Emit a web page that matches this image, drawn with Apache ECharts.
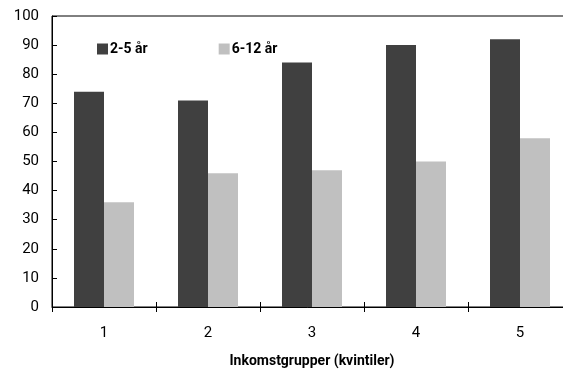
<!DOCTYPE html>
<html>
<head>
<meta charset="utf-8">
<script src="https://cdn.jsdelivr.net/npm/echarts@6/dist/echarts.min.js"></script>
<style>
  html, body { margin: 0; padding: 0; background: #fff; }
  #chart { width: 563px; height: 374px; }
</style>
</head>
<body>
<div id="chart"></div>
<script>
// Income quintiles and share per age group
const categories = ['1', '2', '3', '4', '5'];
const young = [74, 71, 84, 90, 92];     // 2-5 år
const older = [36, 46, 47, 50, 58];     // 6-12 år
const seriesNames = ['2-5 år', '6-12 år'];
const yTicks = { min: 0, max: 100, interval: 10 };

const FONT = 'Roboto, "Liberation Sans Narrow", sans-serif';

const chart = echarts.init(document.getElementById('chart'), null, { renderer: 'canvas' });
chart.setOption({
  animation: false,
  backgroundColor: '#fff',
  textStyle: { fontFamily: FONT, color: '#000' },
  grid: {
    left: 52, top: 16, width: 520, height: 291,
    outerBoundsMode: 'none',
    containLabel: false,
    show: true, borderColor: '#000', borderWidth: 1, backgroundColor: 'transparent'
  },
  legend: {
    left: 92, top: 37,
    itemWidth: 11, itemHeight: 11, itemGap: 71,
    icon: 'rect',
    textStyle: { fontFamily: FONT, fontSize: 14, fontWeight: 'bold', color: '#000', padding: [0, 0, 0, -3] },
    data: seriesNames
  },
  xAxis: [{
    type: 'category',
    data: categories,
    position: 'bottom',
    name: 'Inkomstgrupper (kvintiler)',
    nameLocation: 'middle',
    nameGap: 47,
    nameTextStyle: { fontFamily: FONT, fontSize: 14, fontWeight: 'bold', color: '#000' },
    axisLine: { lineStyle: { color: '#000', width: 1 } },
    axisTick: { show: true, alignWithLabel: false, length: 5, lineStyle: { color: '#000' } },
    axisLabel: { fontFamily: FONT, fontSize: 15, color: '#000', margin: 19 }
  }, {
    type: 'category',
    data: categories,
    position: 'bottom',
    axisLine: { show: false },
    axisTick: { show: true, inside: true, alignWithLabel: false, length: 5, lineStyle: { color: '#000' } },
    axisLabel: { show: false }
  }],
  yAxis: {
    type: 'value',
    min: yTicks.min, max: yTicks.max, interval: yTicks.interval,
    axisLine: { show: true, lineStyle: { color: '#000', width: 1 } },
    axisTick: { show: true, inside: true, length: 5, lineStyle: { color: '#000' } },
    splitLine: { show: false },
    axisLabel: { fontFamily: FONT, fontSize: 15, color: '#000', margin: 13 }
  },
  series: [{
    name: seriesNames[0],
    type: 'bar',
    data: young,
    barWidth: 30,
    barGap: '0%',
    itemStyle: { color: '#404040', borderWidth: 0 }
  }, {
    name: seriesNames[1],
    type: 'bar',
    data: older,
    barWidth: 30,
    barGap: '0%',
    itemStyle: { color: '#c0c0c0', borderWidth: 0 }
  }]
});
</script>
</body>
</html>
